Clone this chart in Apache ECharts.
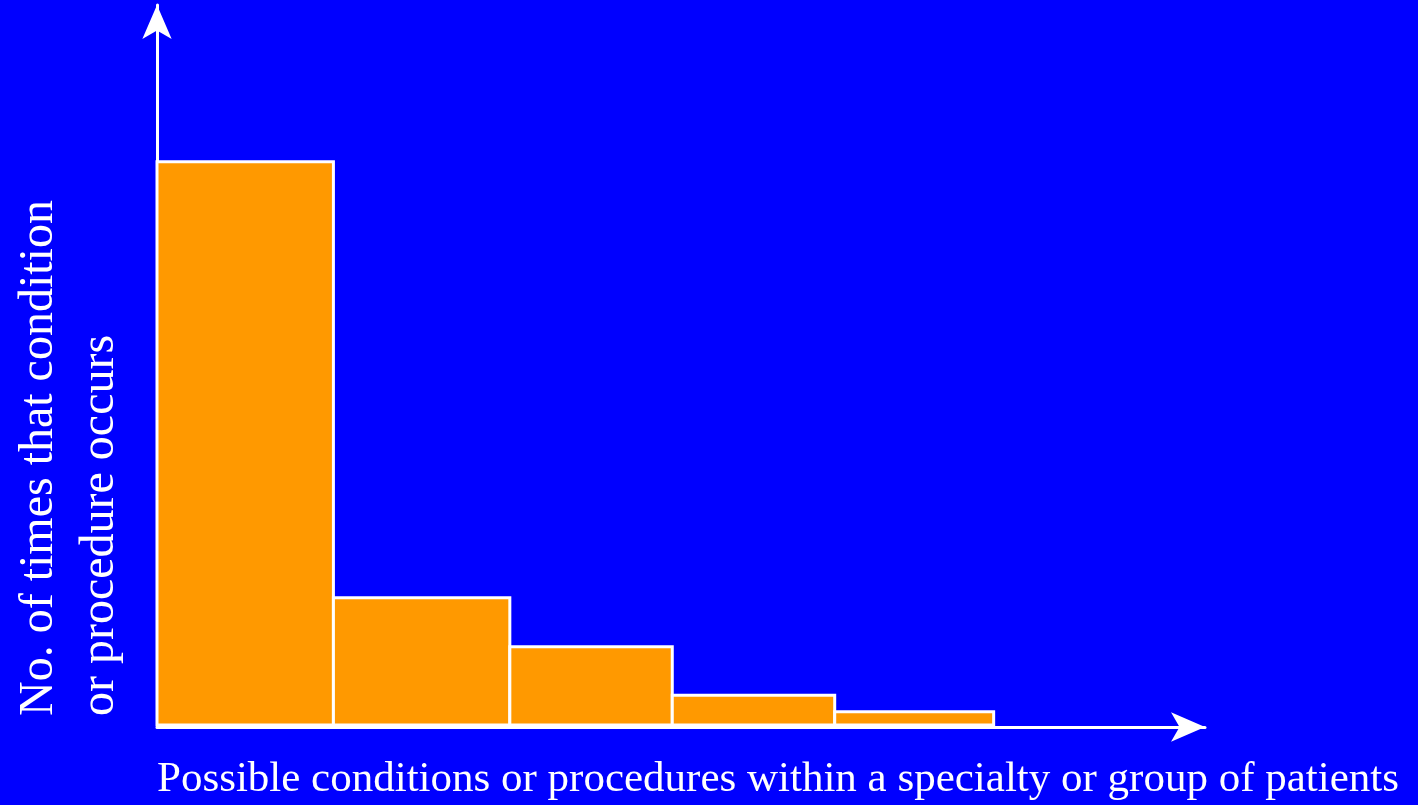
<!DOCTYPE html>
<html><head><meta charset="utf-8">
<script src="https://cdn.jsdelivr.net/npm/echarts@6/dist/echarts.min.js"></script>
<style>html,body{margin:0;padding:0;background:#0000FF;}#c{width:1418px;height:805px;}</style>
</head><body><div id="c"></div>
<script>
// Histogram bins (bin edges on an arbitrary condition scale) and occurrence counts
const binEdges = [0, 1.01, 2.02, 2.95, 3.88, 4.79];
const counts = [78.3, 17.9, 11.1, 4.4, 2.1];
const xTitle = 'Possible conditions or procedures within a specialty or group of patients';
const yTitleLines = ['No. of times that condition', 'or procedure occurs'];

const data = counts.map((v, i) => [binEdges[i], binEdges[i + 1], v]);
const chart = echarts.init(document.getElementById('c'), null, {renderer: 'canvas'});
const font = '"Liberation Serif", "DejaVu Serif", serif';
chart.setOption({
  backgroundColor: '#0000FF',
  animation: false,
  grid: {left: 157, top: 5, right: 1418 - 1205, bottom: 78},
  xAxis: {
    type: 'value', min: 0, max: 6,
    axisLine: {show: true, lineStyle: {color: '#fff', width: 3}, symbol: ['none', 'arrow'], symbolSize: [22, 34]},
    axisTick: {show: false}, axisLabel: {show: false}, splitLine: {show: false}
  },
  yAxis: {
    type: 'value', min: 0, max: 100,
    axisLine: {show: true, lineStyle: {color: '#fff', width: 3}, symbol: ['none', 'arrow'], symbolSize: [22, 34]},
    axisTick: {show: false}, axisLabel: {show: false}, splitLine: {show: false}
  },
  series: [{
    type: 'custom',
    data: data,
    encode: {x: [0, 1], y: 2},
    renderItem: function (params, api) {
      const p0 = api.coord([api.value(0), api.value(2)]);
      const p1 = api.coord([api.value(1), 0]);
      return {
        type: 'rect',
        shape: {x: p0[0], y: p0[1], width: p1[0] - p0[0], height: p1[1] - p0[1] - 2},
        style: {fill: '#FF9900', stroke: '#fff', lineWidth: 3}
      };
    }
  }],
  graphic: [
    {type: 'text', x: 157, y: 758, style: {text: xTitle, fill: '#fff', font: '43px ' + font}},
    {type: 'text', x: 15, y: 716, rotation: Math.PI / 2, style: {text: yTitleLines[0], fill: '#fff', font: '48px ' + font}},
    {type: 'text', x: 76, y: 716, rotation: Math.PI / 2, style: {text: yTitleLines[1], fill: '#fff', font: '48px ' + font}}
  ]
});
</script></body></html>
